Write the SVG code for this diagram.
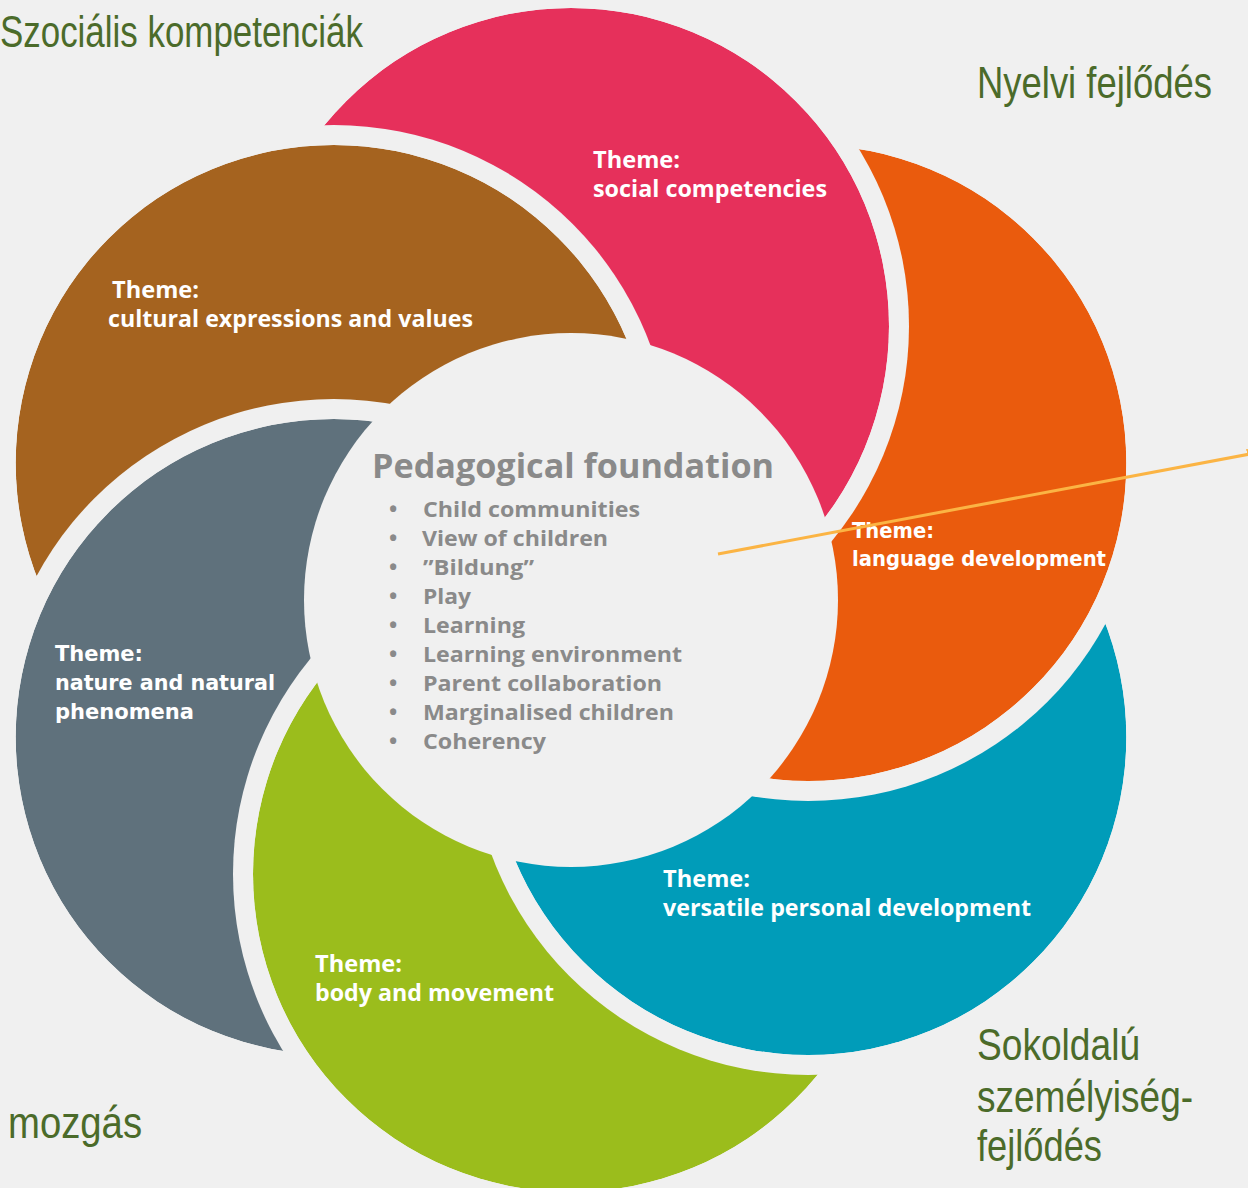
<svg xmlns="http://www.w3.org/2000/svg" width="1248" height="1188" viewBox="0 0 1248 1188">
<style>
.lbl{font-family:"Open Sans","Noto Sans",sans-serif;font-weight:700;font-size:23px;fill:#ffffff}
.lblw{font-family:"DejaVu Sans","Verdana",sans-serif;font-weight:700;font-size:21px;fill:#ffffff}
.title{font-family:"Open Sans","Noto Sans",sans-serif;font-weight:700;font-size:34px;fill:#8a8a8a}
.item{font-family:"Open Sans","Noto Sans",sans-serif;font-weight:700;font-size:22px;fill:#8a8a8a}
.hu{font-family:"Liberation Sans",Arial,sans-serif;font-size:45px;fill:#4b6b2a}
</style>
<defs>
<mask id="m-pink" maskUnits="userSpaceOnUse" x="0" y="0" width="1248" height="1188">
<circle cx="571" cy="326" r="318" fill="#fff"/><circle cx="333.7" cy="463" r="338" fill="#000"/><circle cx="571" cy="600" r="267" fill="#000"/>
</mask>
<mask id="m-orange" maskUnits="userSpaceOnUse" x="0" y="0" width="1248" height="1188">
<circle cx="808.3" cy="463" r="318" fill="#fff"/><circle cx="571" cy="326" r="338" fill="#000"/><circle cx="571" cy="600" r="267" fill="#000"/>
</mask>
<mask id="m-teal" maskUnits="userSpaceOnUse" x="0" y="0" width="1248" height="1188">
<circle cx="808.3" cy="737" r="318" fill="#fff"/><circle cx="808.3" cy="463" r="338" fill="#000"/><circle cx="571" cy="600" r="267" fill="#000"/>
</mask>
<mask id="m-green" maskUnits="userSpaceOnUse" x="0" y="0" width="1248" height="1188">
<circle cx="571" cy="874" r="318" fill="#fff"/><circle cx="808.3" cy="737" r="338" fill="#000"/><circle cx="571" cy="600" r="267" fill="#000"/>
</mask>
<mask id="m-grey" maskUnits="userSpaceOnUse" x="0" y="0" width="1248" height="1188">
<circle cx="333.7" cy="737" r="318" fill="#fff"/><circle cx="571" cy="874" r="338" fill="#000"/><circle cx="571" cy="600" r="267" fill="#000"/>
</mask>
<mask id="m-brown" maskUnits="userSpaceOnUse" x="0" y="0" width="1248" height="1188">
<circle cx="333.7" cy="463" r="318" fill="#fff"/><circle cx="333.7" cy="737" r="338" fill="#000"/><circle cx="571" cy="600" r="267" fill="#000"/>
</mask>
<marker id="arr" markerWidth="12" markerHeight="12" refX="11" refY="6" orient="auto" markerUnits="userSpaceOnUse">
<path d="M0,0 L12,6 L0,12 Z" fill="#fbb444"/>
</marker>
</defs>
<rect x="0" y="0" width="1248" height="1188" fill="#f0f0f0"/>

<g id="petal-social">
<circle cx="571" cy="326" r="318" fill="#e6305b" mask="url(#m-pink)"/>
<text class="lbl" x="593" y="168" textLength="87" lengthAdjust="spacingAndGlyphs">Theme:</text>
<text class="lbl" x="593" y="197" textLength="234" lengthAdjust="spacingAndGlyphs">social competencies</text>
</g>
<g id="petal-language">
<circle cx="808.3" cy="463" r="318" fill="#ea5b0d" mask="url(#m-orange)"/>
<text class="lblw" x="852" y="538" textLength="82" lengthAdjust="spacingAndGlyphs">Theme:</text>
<text class="lblw" x="852" y="566" textLength="254" lengthAdjust="spacingAndGlyphs">language development</text>
</g>
<g id="petal-personal">
<circle cx="808.3" cy="737" r="318" fill="#009cb9" mask="url(#m-teal)"/>
<text class="lbl" x="663" y="887" textLength="87" lengthAdjust="spacingAndGlyphs">Theme:</text>
<text class="lbl" x="663" y="916" textLength="368" lengthAdjust="spacingAndGlyphs">versatile personal development</text>
</g>
<g id="petal-body">
<circle cx="571" cy="874" r="318" fill="#9bbd1c" mask="url(#m-green)"/>
<text class="lbl" x="315" y="972" textLength="87" lengthAdjust="spacingAndGlyphs">Theme:</text>
<text class="lbl" x="315" y="1001" textLength="239" lengthAdjust="spacingAndGlyphs">body and movement</text>
</g>
<g id="petal-nature">
<circle cx="333.7" cy="737" r="318" fill="#5f717c" mask="url(#m-grey)"/>
<text class="lblw" x="55" y="661" textLength="88" lengthAdjust="spacingAndGlyphs">Theme:</text>
<text class="lblw" x="55" y="690" textLength="220" lengthAdjust="spacingAndGlyphs">nature and natural</text>
<text class="lblw" x="55" y="719" textLength="139" lengthAdjust="spacingAndGlyphs">phenomena</text>
</g>
<g id="petal-cultural">
<circle cx="333.7" cy="463" r="318" fill="#a5631f" mask="url(#m-brown)"/>
<text class="lbl" x="112" y="298" textLength="87" lengthAdjust="spacingAndGlyphs">Theme:</text>
<text class="lbl" x="108" y="327" textLength="365" lengthAdjust="spacingAndGlyphs">cultural expressions and values</text>
</g>

<g id="center">
<text class="title" x="372" y="478" textLength="402" lengthAdjust="spacingAndGlyphs">Pedagogical foundation</text>
<g class="item">
<text x="389" y="517">•</text><text x="423" y="517" textLength="217" lengthAdjust="spacingAndGlyphs">Child communities</text>
<text x="389" y="546">•</text><text x="422" y="546" textLength="186" lengthAdjust="spacingAndGlyphs">View of children</text>
<text x="389" y="575">•</text><text x="423" y="575" textLength="111" lengthAdjust="spacingAndGlyphs">”Bildung”</text>
<text x="389" y="604">•</text><text x="423" y="604" textLength="48" lengthAdjust="spacingAndGlyphs">Play</text>
<text x="389" y="633">•</text><text x="423" y="633" textLength="102" lengthAdjust="spacingAndGlyphs">Learning</text>
<text x="389" y="662">•</text><text x="423" y="662" textLength="259" lengthAdjust="spacingAndGlyphs">Learning environment</text>
<text x="389" y="691">•</text><text x="423" y="691" textLength="239" lengthAdjust="spacingAndGlyphs">Parent collaboration</text>
<text x="389" y="720">•</text><text x="423" y="720" textLength="251" lengthAdjust="spacingAndGlyphs">Marginalised children</text>
<text x="389" y="749">•</text><text x="423" y="749" textLength="123" lengthAdjust="spacingAndGlyphs">Coherency</text>
</g>
</g>

<g id="labels-hu">
<text class="hu" transform="translate(0,47) scale(0.776,1)">Szociális kompetenciák</text>
<text class="hu" transform="translate(977,98) scale(0.81,1)">Nyelvi fejlődés</text>
<text class="hu" transform="translate(8,1138) scale(0.851,1)">mozgás</text>
<text class="hu" transform="translate(977,1060) scale(0.825,1)">Sokoldalú</text>
<text class="hu" transform="translate(977,1112) scale(0.823,1)">személyiség-</text>
<text class="hu" transform="translate(977,1161) scale(0.806,1)">fejlődés</text>
</g>

<g id="connectors">
<line x1="718" y1="554" x2="1258" y2="452.5" stroke="#fbb444" stroke-width="3" marker-end="url(#arr)"/>
</g>
</svg>
